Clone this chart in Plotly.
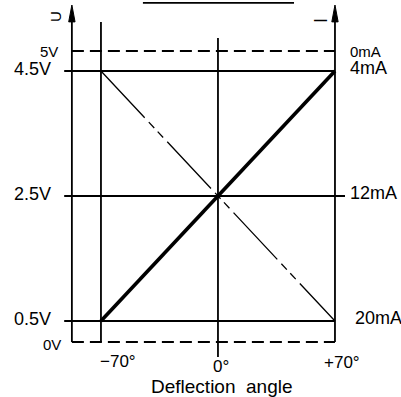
import plotly.graph_objects as go

# Output diagram: voltage / current output vs deflection angle

ANGLES = [-70, 0, 70]
ANGLE_LABELS = ["\u221270\u00b0", "0\u00b0", "+70\u00b0"]

VOLT_VALUES = [0.5, 2.5, 4.5]
VOLT_LABELS = ["0.5V", "2.5V", "4.5V"]
CURRENT_VALUES = [20, 12, 4]
CURRENT_LABELS = ["20mA", "12mA", "4mA"]

# voltage output rises, current output falls over the angle span
VOLT_LINE_X = [-70, 70]
VOLT_LINE_Y = [0.5, 4.5]
CURRENT_LINE_X = [-70, 70]
CURRENT_LINE_Y = [4, 20]

# limit levels (drawn a little squeezed, like in the sketch)
V_MIN, V_MIN_DRAWN = "0V", 0.164
V_MAX, V_MAX_DRAWN = "5V", 4.82
I_AT_VMAX = "0mA"

X_RANGE = [-130.4, 109.5]
Y_RANGE = [-0.716, 5.636]
I_RANGE = [(5.5 - Y_RANGE[0]) * 4, (5.5 - Y_RANGE[1]) * 4]   # 4mA <-> 4.5V, 20mA <-> 0.5V

LEFT = -87.4          # left (U) axis
TICK_START = -92.0
TOP = 5.556           # arrow tips
FONT = "Liberation Sans, Arial, sans-serif"

fig = go.Figure()


def seg(x, y, width=1.8, dash="solid", yaxis="y"):
    fig.add_trace(go.Scatter(x=x, y=y, mode="lines", yaxis=yaxis, hoverinfo="skip",
                             line=dict(color="black", width=width, dash=dash)))


def arrow(x):
    w, h = 1.9, 0.27
    fig.add_trace(go.Scatter(x=[x - w, x, x + w, x - w], y=[TOP - h, TOP, TOP - h, TOP - h],
                             mode="lines", fill="toself", fillcolor="black", hoverinfo="skip",
                             line=dict(color="black", width=1)))


# axes
seg([LEFT, LEFT], [V_MIN_DRAWN, TOP - 0.1])
seg([ANGLES[2], ANGLES[2]], [V_MIN_DRAWN, TOP - 0.1])
arrow(LEFT)
arrow(ANGLES[2])

# verticals at -70 and 0
seg([ANGLES[0], ANGLES[0]], [V_MIN_DRAWN, 5.284])
seg([ANGLES[1], ANGLES[1]], [-0.076, 5.028])

# horizontal levels
for v in VOLT_VALUES:
    seg([TICK_START, 76 if v == 2.5 else ANGLES[2]], [v, v])

# dashed limit lines
seg([LEFT, ANGLES[2]], [V_MAX_DRAWN, V_MAX_DRAWN], width=1.8, dash="12px,6px")
seg([LEFT, ANGLES[2]], [V_MIN_DRAWN, V_MIN_DRAWN], width=1.8, dash="12px,6px")

# current output (phantom line) and voltage output (thick)
seg(CURRENT_LINE_X, CURRENT_LINE_Y, width=1.3, dash="64px,6px,8px,5px,8px,6px", yaxis="y2")
seg(VOLT_LINE_X, VOLT_LINE_Y, width=3.6)

# title underline
seg([-44.9, 45.5], [5.59, 5.59], width=1.8)

ann = []


def txt(x, y, s, size=18, xanchor="center", yanchor="middle", yref="y", angle=0):
    ann.append(dict(x=x, y=y, text=s, xref="x", yref=yref, showarrow=False,
                    xanchor=xanchor, yanchor=yanchor, textangle=angle,
                    font=dict(family=FONT, size=size, color="black")))


for v, lab in zip(VOLT_VALUES, VOLT_LABELS):
    txt(-98.7, v + 0.04, lab, xanchor="right")
for i, lab in zip(CURRENT_VALUES, CURRENT_LABELS):
    txt(80.5 if i == 20 else 77.6, i - 0.18, lab, xanchor="left", yref="y2")
txt(-94.5, V_MAX_DRAWN - 0.01, V_MAX, size=15, xanchor="right")
txt(-93.0, V_MIN_DRAWN - 0.04, V_MIN, size=15, xanchor="right")
txt(77.6, V_MAX_DRAWN - 0.01, I_AT_VMAX, size=15, xanchor="left")

for a, lab, dx, y in zip(ANGLES, ANGLE_LABELS, [10.2, 1.8, 4.2], [-0.14, -0.22, -0.156]):
    txt(a + dx, y, lab, size=17)
txt(2.4, -0.54, "Deflection&nbsp;&nbsp;angle", size=19)

txt(-97.5, 5.38, "U", size=15, angle=-90)
txt(61.6, 5.316, "I", size=18, angle=-90)
txt(0.3, 5.65, "Output diagram", size=22, yanchor="bottom")

fig.update_layout(
    width=401, height=397, margin=dict(l=0, r=0, t=0, b=0),
    paper_bgcolor="white", plot_bgcolor="white", showlegend=False,
    xaxis=dict(range=X_RANGE, visible=False, fixedrange=True),
    yaxis=dict(range=Y_RANGE, visible=False, fixedrange=True),
    yaxis2=dict(range=I_RANGE, visible=False, overlaying="y", fixedrange=True),
    annotations=ann,
)

# drop the page's default body margin so the figure sits at the window's corner
fig.write_html("out.html", config={"displayModeBar": False},
               post_script="document.body.style.margin='0';")
